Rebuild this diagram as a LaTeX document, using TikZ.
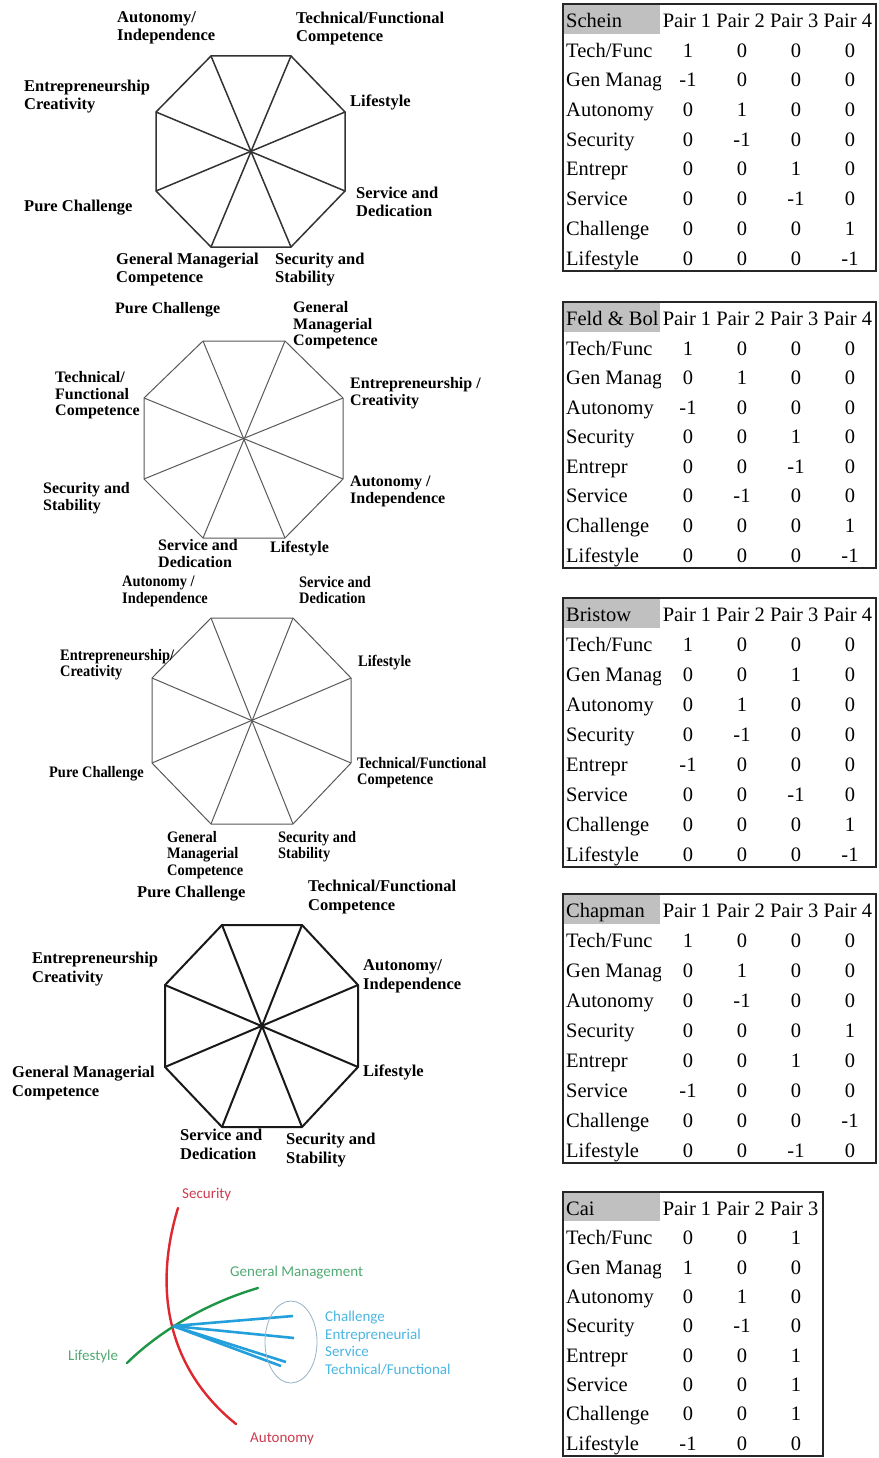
\documentclass[tikz,border=0pt]{standalone}
\usepackage{fontspec}
\setmainfont{Liberation Serif}
\newfontfamily\tnrfont{Liberation Serif}
\newfontfamily\condfont{Liberation Serif}[FakeStretch=0.9]
\newfontfamily\calfont{Carlito}
\definecolor{redc}{RGB}{222,40,48}
\definecolor{redt}{RGB}{205,60,80}
\definecolor{greenc}{RGB}{30,150,70}
\definecolor{greent}{RGB}{80,170,115}
\definecolor{bluec}{RGB}{35,160,220}
\definecolor{bluet}{RGB}{75,182,226}
\definecolor{ellc}{RGB}{150,180,200}
\definecolor{hdrgray}{RGB}{192,192,192}
\tikzset{
  lblA/.style={font=\tnrfont\bfseries\fontsize{16.5}{18}\selectfont, align=left, inner sep=0pt, anchor=north west},
  lblB/.style={font=\tnrfont\bfseries\fontsize{16}{16.7}\selectfont, align=left, inner sep=0pt, anchor=north west},
  lblC/.style={font=\condfont\bfseries\fontsize{16}{16.5}\selectfont, align=left, inner sep=0pt, anchor=north west},
  lblD/.style={font=\tnrfont\bfseries\fontsize{16.5}{19}\selectfont, align=left, inner sep=0pt, anchor=north west},
  octA/.style={line width=1.5pt, draw=black!80, line join=miter},
  octB/.style={line width=1pt, draw=black!65},
  octD/.style={line width=2pt, draw=black!90},
  cell/.style={font=\tnrfont\fontsize{20.5}{22}\selectfont, inner sep=0pt, anchor=base},
  tabline/.style={line width=1.3pt, draw=black!85},
  hdrfill/.style={fill=hdrgray},
  sanslbl/.style={font=\calfont\fontsize{15}{17.5}\selectfont, inner sep=0pt, anchor=base west, align=left},
}
\newcommand\octag[9]{%
  \coordinate (#1v1) at (#3,#6);
  \coordinate (#1v2) at (#4,#6);
  \coordinate (#1v3) at (#5,#7);
  \coordinate (#1v4) at (#5,#8);
  \coordinate (#1v5) at (#4,#9);
  \coordinate (#1v6) at (#3,#9);
  \coordinate (#1v7) at (#2,#8);
  \coordinate (#1v8) at (#2,#7);
}
\newcommand\octdraw[2]{%
  \draw[#2] (#1v1) -- (#1v2) -- (#1v3) -- (#1v4) -- (#1v5) -- (#1v6) -- (#1v7) -- (#1v8) -- cycle;
  \draw[#2] (#1v1) -- (#1v5);
  \draw[#2] (#1v2) -- (#1v6);
  \draw[#2] (#1v3) -- (#1v7);
  \draw[#2] (#1v4) -- (#1v8);
}
\newcommand\drawtab[7]{%
  \pgfmathsetmacro\rh{(#3-#2)/9}
  \fill[hdrfill] (563,#2) rectangle (660,#2+\rh);
  \begin{scope}
    \clip (563,#2) rectangle (660,#3);
    \node[cell,anchor=base west] (#1-h) at (566,#2+\rh-6) {#5};
    \foreach \lab [count=\i] in {Tech/Func,Gen Manag,Autonomy,Security,Entrepr,Service,Challenge,Lifestyle}
      \node[cell,anchor=base west] (#1-r\i) at (566,#2+\rh*\i+\rh-6) {\lab};
  \end{scope}
  \foreach \j in {1,...,#7}
    \node[cell] (#1-p\j) at (687+53.6*\j-53.6,#2+\rh-6) {Pair \j};
  \foreach \row [count=\i] in {#6}{
    \foreach \v [count=\j] in \row
      \node[cell] (#1-\i-\j) at (688+54*\j-54,#2+\rh*\i+\rh-6) {\v};
  }
  \draw[tabline] (563,#2) rectangle (#4,#3);
}
\begin{document}
\begin{tikzpicture}[x=1pt,y=-1pt]
\useasboundingbox[fill=white] (0,0) rectangle (878,1458);

% ---------- Diagram 1 ----------
\octag{a}{156}{211}{291}{345}{56}{112}{191}{247}
\octdraw{a}{octA}
\node[lblA] (a-aut) at (117,11) {Autonomy/\\Independence};
\node[lblA] (a-tec) at (296,12) {Technical/Functional\\Competence};
\node[lblA] (a-ent) at (24,80) {Entrepreneurship\\Creativity};
\node[lblA] (a-lif) at (350,95) {Lifestyle};
\node[lblA] (a-ser) at (356,187) {Service and\\Dedication};
\node[lblA] (a-pur) at (24,200) {Pure Challenge};
\node[lblA] (a-gen) at (116,253) {General Managerial\\Competence};
\node[lblA] (a-sec) at (275,253) {Security and\\Stability};

% ---------- Diagram 2 ----------
\octag{b}{144}{203}{285}{343}{341}{398}{479}{538}
\octdraw{b}{octB}
\node[lblB] (b-pur) at (115,302) {Pure Challenge};
\node[lblB] (b-gen) at (293,301) {General\\Managerial\\Competence};
\node[lblB] (b-tec) at (55,371) {Technical/\\Functional\\Competence};
\node[lblB] (b-ent) at (350,377) {Entrepreneurship /\\Creativity};
\node[lblB] (b-sec) at (43,482) {Security and\\Stability};
\node[lblB] (b-aut) at (350,476) {Autonomy /\\Independence};
\node[lblB] (b-ser) at (158,539) {Service and\\Dedication};
\node[lblB] (b-lif) at (270,541) {Lifestyle};

% ---------- Diagram 3 ----------
\octag{c}{152}{211}{293}{351}{618}{678}{763}{824}
\octdraw{c}{octB}
\node[lblC] (c-aut) at (122,576) {Autonomy /\\Independence};
\node[lblC] (c-ser) at (299,576) {Service and\\Dedication};
\node[lblC] (c-ent) at (60,649) {Entrepreneurship/\\Creativity};
\node[lblC] (c-lif) at (358,655) {Lifestyle};
\node[lblC] (c-pur) at (49,766) {Pure Challenge};
\node[lblC] (c-tec) at (357,757) {Technical/Functional\\Competence};
\node[lblC] (c-gen) at (167,831) {General\\Managerial\\Competence};
\node[lblC] (c-sec) at (278,831) {Security and\\Stability};

% ---------- Diagram 4 ----------
\octag{d}{165}{222}{302}{358}{925}{985}{1067}{1127}
\octdraw{d}{octD}
\node[lblD] (d-pur) at (137,886) {Pure Challenge};
\node[lblD] (d-tec) at (308,880) {Technical/Functional\\Competence};
\node[lblD] (d-ent) at (32,952) {Entrepreneurship\\Creativity};
\node[lblD] (d-aut) at (363,959) {Autonomy/\\Independence};
\node[lblD] (d-gen) at (12,1066) {General Managerial\\Competence};
\node[lblD] (d-lif) at (363,1065) {Lifestyle};
\node[lblD] (d-ser) at (180,1129) {Service and\\Dedication};
\node[lblD] (d-sec) at (286,1133) {Security and\\Stability};

% ---------- Diagram 5 ----------
\coordinate (hub) at (173,1326);
\coordinate (redtop) at (178,1208);
\coordinate (redbot) at (236,1424);
\coordinate (grnlo) at (127,1363);
\coordinate (grnhi) at (258,1288);
\coordinate (b1) at (293,1316);
\coordinate (b2) at (294,1338);
\coordinate (b3) at (286,1362);
\coordinate (b4) at (281,1366);
\draw[redc, line width=2.4pt, line cap=round] (redtop) .. controls (150,1300) and (175,1375) .. (redbot);
\draw[greenc, line width=2.4pt, line cap=round] (grnlo) .. controls (145,1345) and (190,1308) .. (grnhi);
\draw[bluec, line width=2.6pt] (hub) -- (b1);
\draw[bluec, line width=2.6pt] (hub) -- (b2);
\draw[bluec, line width=2.6pt] (hub) -- (b3);
\draw[bluec, line width=2.6pt] (hub) -- (b4);
\draw[ellc, line width=0.8pt] (291,1342) ellipse [x radius=26, y radius=41];
\node[sanslbl, text=redt] (e-sec) at (182,1198) {Security};
\node[sanslbl, text=greent] (e-gm) at (230,1276) {General Management};
\node[sanslbl, text=bluet, anchor=north west] (e-grp) at (325,1311) {Challenge\\Entrepreneurial\\Service\\Technical/Functional};
\node[sanslbl, text=greent] (e-lif) at (68,1360) {Lifestyle};
\node[sanslbl, text=redt] (e-aut) at (250,1442) {Autonomy};

% ---------- Tables ----------
\drawtab{t1}{4}{271}{876}{Schein}{{1,0,0,0},{-1,0,0,0},{0,1,0,0},{0,-1,0,0},{0,0,1,0},{0,0,-1,0},{0,0,0,1},{0,0,0,-1}}{4}
\drawtab{t2}{302}{568}{876}{Feld \& Bol}{{1,0,0,0},{0,1,0,0},{-1,0,0,0},{0,0,1,0},{0,0,-1,0},{0,-1,0,0},{0,0,0,1},{0,0,0,-1}}{4}
\drawtab{t3}{598}{867}{876}{Bristow}{{1,0,0,0},{0,0,1,0},{0,1,0,0},{0,-1,0,0},{-1,0,0,0},{0,0,-1,0},{0,0,0,1},{0,0,0,-1}}{4}
\drawtab{t4}{894}{1163}{876}{Chapman}{{1,0,0,0},{0,1,0,0},{0,-1,0,0},{0,0,0,1},{0,0,1,0},{-1,0,0,0},{0,0,0,-1},{0,0,-1,0}}{4}
\drawtab{t5}{1192}{1456}{823}{Cai}{{0,0,1},{1,0,0},{0,1,0},{0,-1,0},{0,0,1},{0,0,1},{0,0,1},{-1,0,0}}{3}
\end{tikzpicture}
\end{document}
